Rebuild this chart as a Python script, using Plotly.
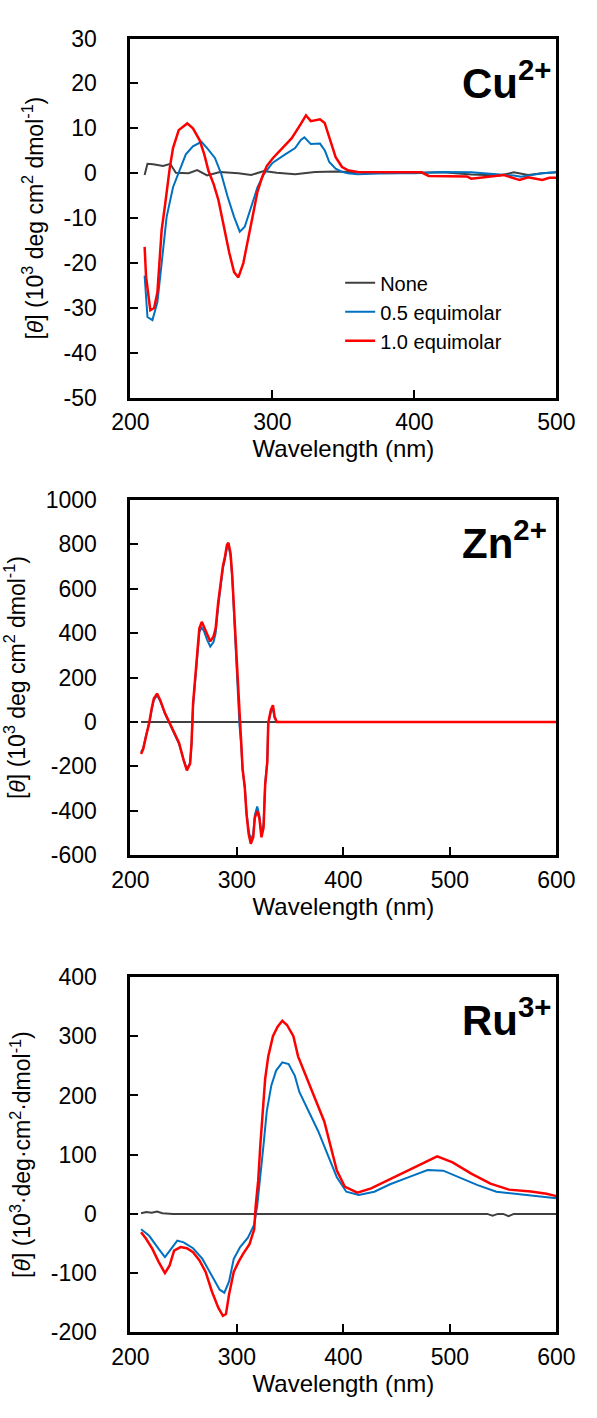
import plotly.graph_objects as go

# ---------------- Data: Cu2+ panel ----------------
cu_wl_none = [210, 212, 216, 223, 228, 232, 241, 247, 254, 263, 276, 285, 294, 303, 316, 330, 345,
              360, 380, 400, 420, 440, 460, 470, 480, 490, 500]
cu_none = [-0.4, 2.1, 2.0, 1.6, 2.1, 0.1, 0.0, 0.7, -0.5, 0.3, 0.0, -0.4, 0.5, 0.1, -0.2, 0.3, 0.4,
           0.2, 0.0, 0.1, 0.2, -0.3, -0.5, 0.2, -0.4, 0.0, 0.2]

cu_wl_half = [210, 212, 215.5, 219, 222, 225.5, 230, 234.5, 239, 244, 250, 254, 259.5, 264, 268.5, 273,
              277, 280.5, 285, 289.5, 294, 300, 309, 316, 320, 322.5, 327, 333.5, 337, 340, 344.5, 349,
              353, 360, 380, 400, 420, 440, 460, 470, 475, 490, 500]
cu_half = [-22.8, -32, -32.7, -28.7, -20, -9.7, -3.1, 0.5, 4.2, 6, 7, 5.6, 3.4, -0.2, -5.3, -9.7,
           -13, -11.9, -7.5, -3.1, -0.2, 2.3, 4.2, 5.6, 7.4, 8, 6.5, 6.6, 5, 2.5, 1, 0.3,
           0, -0.2, 0, 0, 0.3, 0.2, -0.3, -0.5, -0.8, 0, 0.2]

cu_wl_one = [210, 211, 214, 216.7, 219, 222, 224.5, 227.7, 230, 234, 240, 244, 248.7, 252, 255, 258.6,
             262, 266, 269.6, 273, 276, 279.5, 283, 286, 289.4, 292.7, 296, 300.4, 307, 313.6, 320,
             323.6, 327, 333.5, 336.8, 340, 344.5, 349, 353, 360, 380, 405, 410, 437, 440, 458,
             463, 472, 474, 480, 490, 495, 500]
cu_one = [-16.4, -23, -30.5, -30, -26.5, -12.6, -6.8, 1.2, 5.6, 9.6, 11.1, 10, 7.4, 4.2, 0.5, -2.4,
          -6, -12.6, -17.7, -22, -23.2, -20, -14, -9.7, -4.2, -0.9, 1.6, 3.4, 5.6, 7.8, 11,
          12.9, 11.6, 12, 11.2, 8, 3.6, 1.4, 0.7, 0.3, 0.2, 0.2, -0.6, -0.7, -1.2, -0.6,
          -0.4, -1.3, -1.5, -0.9, -1.5, -1.0, -1.0]

# ---------------- Data: Zn2+ panel ----------------
zn_wl = [210, 212, 214.7, 217.6, 220, 222, 225, 228, 232.4, 236.8, 241, 245.6, 250, 253, 256, 257.4,
         258.8, 260.3, 261.8, 263.2, 264.7, 267, 269, 272, 275, 278, 280, 282.4, 284.7, 286.8, 288.8,
         290.6, 292, 294, 295.6, 297, 299, 301, 302.4, 304, 305.3, 307.4, 309, 311, 313, 315.3,
         316.8, 319, 321, 323, 325, 326.5, 328.5, 329.4, 331.8, 333.8, 335.3, 337.4, 350, 400,
         500, 600]
zn_one = [-144, -122, -63, -4, 62, 106, 128, 98, 40, -4, -49, -93, -173, -218, -188, -93,
          84, 172, 275, 348, 422, 451, 429, 392, 363, 385, 422, 539, 628, 701, 745,
          797, 807, 760, 657, 525, 348, 143, -4, -93, -210, -298, -416, -504, -548, -519,
          -431, -401, -431, -519, -475, -284, -181, -4, 54, 76, 25, 0, 0, 0,
          0, 0]
zn_half = [-135, -118, -60, -8, 55, 100, 120, 95, 38, -8, -52, -98, -170, -212, -185, -100,
           70, 160, 262, 335, 405, 425, 410, 370, 340, 360, 400, 520, 610, 690, 735,
           785, 792, 748, 650, 510, 335, 130, -15, -100, -215, -290, -405, -490, -530, -505,
           -420, -380, -420, -505, -460, -275, -175, -10, 45, 62, 20, 0, 0, 0,
           0, 0]
zn_wl_none = [210, 300, 400, 500, 600]
zn_none = [0, 0, 0, 0, 0]

# ---------------- Data: Ru3+ panel ----------------
ru_wl_one = [210, 214.7, 220.6, 226.5, 232.4, 236.8, 241, 247, 253, 258.8, 264.7, 270.6, 276.5, 282.4,
             286.8, 289.7, 292.6, 297, 301.5, 305.9, 311.8, 316.2, 317.6, 320, 322, 324.4, 326.5,
             329.4, 333.8, 338.2, 342.6, 347, 353, 357.4, 364.5, 373.3, 382, 388, 393.8, 401.2,
             413, 426, 440.8, 455.5, 473, 488, 502.5, 520, 538, 555.4, 576, 590.6, 600]
ru_one = [-31, -42, -59, -81, -100, -87, -62, -56, -58, -64.5, -78, -98, -131, -158,
          -172, -169, -136, -98, -81, -67, -51, -26, 13, 57, 117, 184, 228,
          266, 300, 316, 326, 319, 300, 266, 233, 195, 156, 112, 73, 46,
          36, 43, 56, 68, 84, 97, 87, 68, 51, 41, 38, 34, 30]

ru_wl_half = [210, 217.6, 226.5, 232.4, 238.2, 244, 250, 258.8, 267.6, 276.5, 283.8, 288.2, 292.6, 297,
              303, 310.3, 316.2, 319, 322, 325, 328, 332.3, 336.8, 342.6, 348.5, 354.4, 358.6, 367.4,
              376.2, 385, 393.8, 402.7, 414.4, 429, 443.8, 461.4, 479, 493.7, 508.4, 526, 543.6,
              561.3, 581.8, 600]
ru_half = [-26, -37, -59, -73, -59, -45, -48, -58, -76, -106, -128, -133, -114, -76,
           -56, -40, -18, 13, 62, 117, 173, 217, 242, 256, 253, 233, 206, 173,
           140, 101, 62, 37.5, 32, 37.5, 50, 62, 74, 73, 62, 48.5, 37.5,
           34, 29, 26.5]

ru_wl_none = [210, 215, 220, 225, 230, 240, 300, 400, 500, 535, 540, 545, 550, 555, 560, 600]
ru_none = [1, 3, 2, 4, 1, 0, 0, 0, 0, 0, -3, 0, 0, -4, 0, 0]

# ---------------- Tick labels ----------------
x_ticks_cu = [200, 300, 400, 500]
x_ticks = [200, 300, 400, 500, 600]
y_ticks_cu = [-50, -40, -30, -20, -10, 0, 10, 20, 30]
y_ticks_zn = [-600, -400, -200, 0, 200, 400, 600, 800, 1000]
y_ticks_ru = [-200, -100, 0, 100, 200, 300, 400]

series_names = ["None", "0.5 equimolar", "1.0 equimolar"]
colors = ["#404040", "#0070C0", "#FF0000"]
widths = [2, 2, 2.5]

FONT = "Liberation Sans, Arial, sans-serif"

fig = go.Figure()

panels = [
    ("x", "y", [(cu_wl_none, cu_none), (cu_wl_half, cu_half), (cu_wl_one, cu_one)], True),
    ("x2", "y2", [(zn_wl_none, zn_none), (zn_wl, zn_half), (zn_wl, zn_one)], False),
    ("x3", "y3", [(ru_wl_none, ru_none), (ru_wl_half, ru_half), (ru_wl_one, ru_one)], False),
]
for xa, ya, data, show in panels:
    for i, (xs, ys) in enumerate(data):
        fig.add_trace(go.Scatter(x=xs, y=ys, mode="lines", name=series_names[i],
                                 line=dict(color=colors[i], width=widths[i]),
                                 xaxis=xa, yaxis=ya, showlegend=show))

def ax(**kw):
    d = dict(showline=True, linecolor="black", linewidth=3, mirror=True,
             ticks="inside", ticklen=8, tickwidth=2, tickcolor="black",
             showgrid=False, zeroline=False,
             tickfont=dict(family=FONT, size=23, color="black"))
    d.update(kw)
    return d

def lbl(vals):
    return [str(v) for v in vals]  # plain hyphen minus like the original

H = 1418.0
W = 597.0
def py(p):
    return 1 - p / H

xdom = [119 / W, 574 / W]
xtitle = dict(text="Wavelength (nm)", font=dict(family=FONT, size=24, color="black"), standoff=6)
ytitle1 = "[<i>θ</i>] (10<sup>3</sup> deg cm<sup>2</sup> dmol<sup>-1</sup>)"
ytitle3 = "[<i>θ</i>] (10<sup>3</sup>·deg·cm<sup>2</sup>·dmol<sup>-1</sup>)"
yfont = dict(family=FONT, size=23, color="black")

fig.update_layout(
    width=597, height=1418, margin=dict(l=0, r=0, t=0, b=0),
    paper_bgcolor="white", plot_bgcolor="white",
    font=dict(family=FONT, color="black"),
    xaxis=ax(domain=xdom, anchor="y", range=[200, 500], tickvals=x_ticks_cu, ticktext=lbl(x_ticks_cu),
             ticklabelstandoff=2, title=xtitle),
    yaxis=ax(domain=[py(392), py(26)], anchor="x", range=[-50, 30], tickvals=y_ticks_cu,
             ticktext=lbl(y_ticks_cu), ticklabelstandoff=26,
             title=dict(text=ytitle1, font=yfont, standoff=14)),
    xaxis2=ax(domain=xdom, anchor="y2", range=[200, 600], tickvals=x_ticks, ticktext=lbl(x_ticks),
              ticklabelstandoff=2, title=xtitle),
    yaxis2=ax(domain=[py(858), py(496)], anchor="x2", range=[-600, 1000], tickvals=y_ticks_zn,
              ticktext=lbl(y_ticks_zn), ticklabelstandoff=26,
              title=dict(text=ytitle1, font=yfont, standoff=14)),
    xaxis3=ax(domain=xdom, anchor="y3", range=[200, 600], tickvals=x_ticks, ticktext=lbl(x_ticks),
              ticklabelstandoff=2, title=xtitle),
    yaxis3=ax(domain=[py(1344), py(982)], anchor="x3", range=[-200, 400], tickvals=y_ticks_ru,
              ticktext=lbl(y_ticks_ru), ticklabelstandoff=26,
              title=dict(text=ytitle3, font=yfont, standoff=14)),
    legend=dict(x=343 / W, y=py(255), xanchor="left", yanchor="top",
                font=dict(family=FONT, size=20, color="black"),
                bgcolor="rgba(0,0,0,0)", tracegroupgap=0),
)

labels = [("<b>Cu<sup>2+</sup></b>", 571, 68), ("<b>Zn<sup>2+</sup></b>", 566, 537),
          ("<b>Ru<sup>3+</sup></b>", 571, 1023)]
for txt, xpix, ypix in labels:
    fig.add_annotation(text=txt, xref="paper", yref="paper", x=xpix / W, y=py(ypix),
                       xanchor="right", yanchor="middle", showarrow=False,
                       font=dict(family=FONT, size=42, color="black"))

fig.write_html("out.html")
